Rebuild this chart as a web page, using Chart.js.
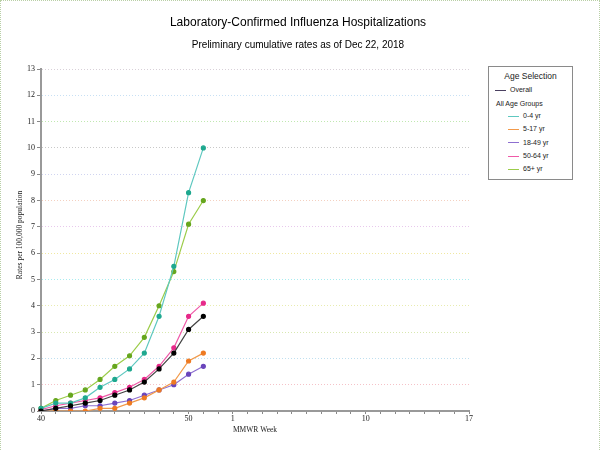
<!DOCTYPE html>
<html lang="en">
<head>
    <meta charset="UTF-8">
    <title>Laboratory-Confirmed Influenza Hospitalizations</title>
    <script src="https://cdn.jsdelivr.net/npm/chart.js"></script>
    <style>
        body { margin: 0; font-family: "Liberation Sans", Arial, sans-serif; }
        .wrap { position: relative; width: 600px; height: 450px; box-sizing: border-box;
                border-top: 1px dotted #b9cfa6; border-left: 1px dotted #b9cfa6; border-right: 1px dotted #b9cfa6; }
        canvas { position: absolute; left: 0; top: 0; }
        .legend { position: absolute; left: 487px; top: 65px; width: 85px; height: 114px;
                  box-sizing: border-box; border: 1px solid #8a8a8a; background: #fff; font-size: 7px; color: #222; }
        .legend .head { text-align: center; font-size: 8.5px; margin-top: 4px; }
        .legend .row { position: absolute; white-space: nowrap; }
        .legend .row span { display: inline-block; width: 11px; height: 0; border-top: 1px solid; vertical-align: middle; margin-right: 4px; }
    </style>
</head>
<body>
<div class="wrap">
    <canvas id="fluChart" width="600" height="450"></canvas>
    <div class="legend" id="legend"><div class="head">Age Selection</div></div>
</div>

<script>
    // MMWR weeks: 40..52 of 2018, then 1..17 of 2019
    const weeks = ['40','41','42','43','44','45','46','47','48','49','50','51','52',
                   '1','2','3','4','5','6','7','8','9','10','11','12','13','14','15','16','17'];
    const shownWeeks = ['40', '50', '1', '10', '17'];

    // cumulative rate per 100,000, weeks 40-51
    const overall  = [0.0, 0.1, 0.2, 0.3, 0.4, 0.6, 0.8, 1.1, 1.6, 2.2, 3.1, 3.6];
    const age0_4   = [0.1, 0.3, 0.3, 0.5, 0.9, 1.2, 1.6, 2.2, 3.6, 5.5, 8.3, 10.0];
    const age5_17  = [0.0, 0.0, 0.0, 0.0, 0.1, 0.1, 0.3, 0.5, 0.8, 1.1, 1.9, 2.2];
    const age18_49 = [0.0, 0.1, 0.1, 0.2, 0.2, 0.3, 0.4, 0.6, 0.8, 1.0, 1.4, 1.7];
    const age50_64 = [0.05, 0.2, 0.3, 0.4, 0.5, 0.7, 0.9, 1.2, 1.7, 2.4, 3.6, 4.1];
    const age65    = [0.1, 0.4, 0.6, 0.8, 1.2, 1.7, 2.1, 2.8, 4.0, 5.3, 7.1, 8.0];

    const groupNames = ['0-4 yr', '5-17 yr', '18-49 yr', '50-64 yr', '65+ yr'];
    const groupData = [age0_4, age5_17, age18_49, age50_64, age65];
    const lineColors = ['#5fc8c0', '#f29a4a', '#8d6fd0', '#ef5aa8', '#9ccc4a'];
    const pointColors = ['#1ea88f', '#ee7a22', '#6a45bb', '#e7298a', '#66a61e'];

    // pastel dotted gridlines, one per y value 0..13
    const gridColors = ['#ffffff', '#f5c2c8', '#bfe0f0', '#d8e8b0', '#e8ecb0', '#a8ecf0', '#f0e8a0',
                        '#e8c8ec', '#f4d0c0', '#d0d4f0', '#c8c8c8', '#c0e8b0', '#c8e0f4', '#d8d0d8'];

    const datasets = [{
        label: 'Overall',
        data: overall,
        borderColor: '#444444',
        pointBackgroundColor: '#000000',
        pointBorderColor: '#000000'
    }];
    groupNames.forEach((name, i) => {
        datasets.push({
            label: name,
            data: groupData[i],
            borderColor: lineColors[i],
            pointBackgroundColor: pointColors[i],
            pointBorderColor: pointColors[i]
        });
    });
    datasets.forEach(d => {
        d.borderWidth = 1.2;
        d.pointRadius = 2;
        d.pointHoverRadius = 3;
        d.tension = 0;
        d.fill = false;
    });

    // html legend
    const legend = document.getElementById('legend');
    function addRow(text, color, left, top) {
        const row = document.createElement('div');
        row.className = 'row';
        row.style.left = left + 'px';
        row.style.top = top + 'px';
        if (color) {
            const s = document.createElement('span');
            s.style.borderColor = color;
            row.appendChild(s);
        }
        row.appendChild(document.createTextNode(text));
        legend.appendChild(row);
    }
    addRow('Overall', '#4a4060', 6, 19);
    addRow('All Age Groups', null, 7, 33);
    groupNames.forEach((name, i) => addRow(name, lineColors[i], 19, 45 + i * 13.3));

    const serifFont = '"Liberation Serif", "Times New Roman", serif';

    // titles and axis titles drawn at fixed spots
    const titles = {
        id: 'titles',
        afterDraw(chart) {
            const c = chart.ctx;
            c.save();
            c.fillStyle = '#000';
            c.textAlign = 'center';
            c.textBaseline = 'middle';
            c.font = '12px "Liberation Sans", Arial, sans-serif';
            c.fillText('Laboratory-Confirmed Influenza Hospitalizations', 297, 22);
            c.font = '10px "Liberation Sans", Arial, sans-serif';
            c.fillText('Preliminary cumulative rates as of Dec 22, 2018', 297, 44);
            c.fillStyle = '#222';
            c.font = '7.5px ' + serifFont;
            c.fillText('MMWR Week', 254, 429);
            c.translate(19, 234);
            c.rotate(-Math.PI / 2);
            c.font = '7.5px ' + serifFont;
            c.fillText('Rates per 100,000 population', 0, 0);
            c.restore();
        }
    };

    const serif = { family: serifFont, size: 8 };

    new Chart(document.getElementById('fluChart'), {
        type: 'line',
        data: { labels: weeks, datasets: datasets },
        options: {
            responsive: false,
            animation: false,
            layout: { padding: { top: 68, right: 132, bottom: 0, left: 0 } },
            plugins: {
                legend: { display: false },
                title: { display: false },
                tooltip: { enabled: false }
            },
            scales: {
                x: {
                    offset: false,
                    afterFit(scale) { scale.height = 40; },
                    grid: { drawOnChartArea: false, drawTicks: true, tickLength: 3, tickColor: '#888' },
                    border: { color: '#999', width: 2 },
                    ticks: {
                        autoSkip: false,
                        maxRotation: 0,
                        padding: 0,
                        color: '#222',
                        font: serif,
                        callback(value) {
                            const l = weeks[value];
                            return shownWeeks.includes(l) ? l : '';
                        }
                    }
                },
                y: {
                    min: 0,
                    max: 13,
                    afterFit(scale) { scale.width = 40; },
                    grid: {
                        color: ctx => gridColors[ctx.tick ? ctx.tick.value : 0] || '#ddd',
                        tickColor: '#888',
                        tickLength: 4,
                        lineWidth: 1
                    },
                    border: { color: '#999', width: 2, dash: [1, 2] },
                    ticks: { stepSize: 1, color: '#222', font: serif, padding: 2 }
                }
            }
        },
        plugins: [titles]
    });
</script>
</body>
</html>
